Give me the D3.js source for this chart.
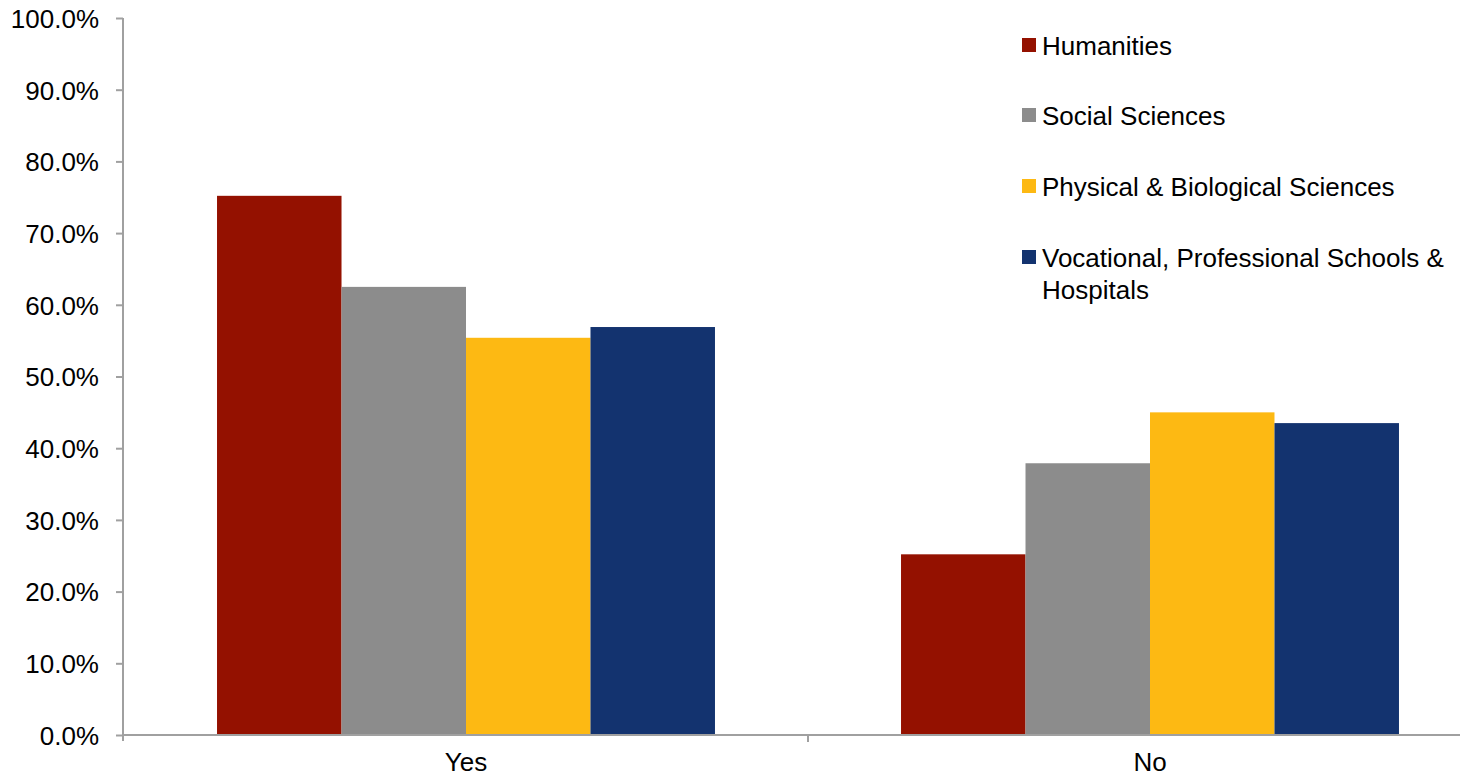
<!DOCTYPE html>
<html>
<head>
<meta charset="utf-8">
<script src="https://cdn.jsdelivr.net/npm/d3@7"></script>
<style>
  body { margin: 0; background: #fff; }
  svg { font-family: "Liberation Sans", Arial, Helvetica, sans-serif; }
</style>
</head>
<body>
<div id="chart"></div>
<script>
const categories = ['Yes', 'No'];
const seriesNames = ['Humanities', 'Social Sciences', 'Physical & Biological Sciences', 'Vocational, Professional Schools & Hospitals'];
const humanities = [75.2, 25.2];
const socialSciences = [62.5, 37.9];
const physicalBio = [55.4, 45.0];
const vocational = [56.9, 43.5];
const yTicks = [0, 10, 20, 30, 40, 50, 60, 70, 80, 90, 100];

const seriesValues = [humanities, socialSciences, physicalBio, vocational];
const colors = ['#941100', '#8c8c8c', '#fdb913', '#13336f'];

const width = 1460;
const height = 779;
const fontSize = '26px';

const svg = d3.select('#chart')
  .append('svg')
  .attr('width', width)
  .attr('height', height);

const y = d3.scaleLinear()
  .domain([0, 100])
  .range([735, 18]);

const x0 = d3.scaleBand()
  .domain(categories)
  .range([124, 1492])
  .paddingInner(0.272)
  .paddingOuter(0.136);

const x1 = d3.scaleBand()
  .domain(d3.range(seriesNames.length))
  .range([0, x0.bandwidth()]);

// bars
const groups = svg.append('g').attr('class', 'bars')
  .selectAll('g')
  .data(categories)
  .enter()
  .append('g')
  .attr('transform', d => `translate(${x0(d)},0)`);

groups.selectAll('rect')
  .data((d, ci) => seriesValues.map((s, si) => ({ si, v: s[ci] })))
  .enter()
  .append('rect')
  .attr('x', d => x1(d.si))
  .attr('width', x1.bandwidth())
  .attr('y', d => y(d.v))
  .attr('height', d => y(0) - y(d.v))
  .attr('fill', d => colors[d.si]);

// y axis
const yAxis = svg.append('g')
  .attr('transform', 'translate(123,0)')
  .call(d3.axisLeft(y).tickValues(yTicks).tickSize(7).tickFormat(d => d.toFixed(1) + '%'));
yAxis.selectAll('path, line').attr('stroke', '#a0a0a0').attr('stroke-width', 2);
yAxis.select('.domain').attr('d', `M0,${y(100)}V${y(0) + 6}`);
yAxis.selectAll('text')
  .attr('x', -24)
  .attr('dy', '0.36em')
  .attr('fill', '#000')
  .style('font-size', fontSize)
  .style('font-family', '"Liberation Sans", Arial, sans-serif');

// x axis
const xAxisG = svg.append('g').attr('class', 'x-axis');
xAxisG.append('line')
  .attr('x1', 122).attr('x2', width)
  .attr('y1', y(0)).attr('y2', y(0))
  .attr('stroke', '#a0a0a0').attr('stroke-width', 2);

const dividers = [x0(categories[1]) - x0.step() * x0.paddingInner() / 2];
xAxisG.selectAll('.div')
  .data(dividers)
  .enter()
  .append('line')
  .attr('x1', d => d).attr('x2', d => d)
  .attr('y1', y(0)).attr('y2', y(0) + 7)
  .attr('stroke', '#a0a0a0').attr('stroke-width', 2);

xAxisG.selectAll('.lbl')
  .data(categories)
  .enter()
  .append('text')
  .attr('x', d => x0(d) + x0.bandwidth() / 2)
  .attr('y', 771)
  .attr('text-anchor', 'middle')
  .style('font-size', fontSize)
  .text(d => d);

// legend
const legendRows = [46, 116, 187, 258];
const legend = svg.append('g').attr('class', 'legend');
seriesNames.forEach((name, i) => {
  const g = legend.append('g').attr('transform', `translate(1022,${legendRows[i]})`);
  g.append('rect')
    .attr('x', 0).attr('y', -8)
    .attr('width', 14).attr('height', 14)
    .attr('fill', colors[i]);
  const t = g.append('text')
    .attr('x', 20).attr('y', 9)
    .style('font-size', fontSize);
  if (i === 3) {
    t.append('tspan').attr('x', 20).text('Vocational, Professional Schools &');
    t.append('tspan').attr('x', 20).attr('dy', 32).text('Hospitals');
  } else {
    t.text(name);
  }
});
</script>
</body>
</html>
